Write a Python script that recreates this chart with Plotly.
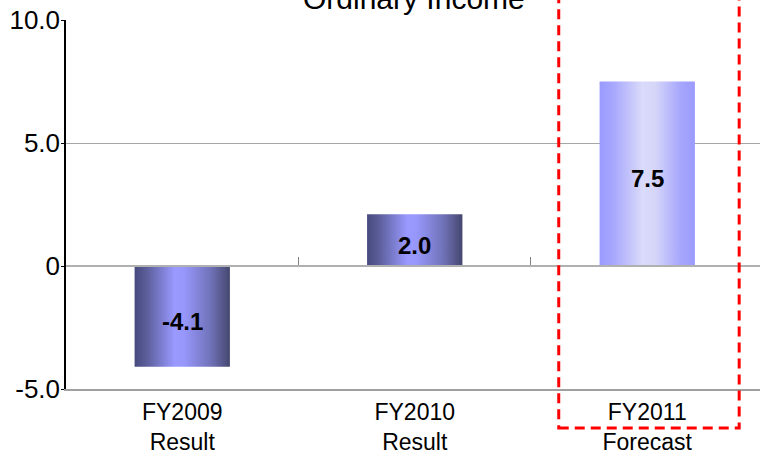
import plotly.graph_objects as go

# ---- data ----
categories = ["FY2009<br>Result", "FY2010<br>Result", "FY2011<br>Forecast"]
values = [-4.1, 2.1, 7.5]
value_labels = ["-4.1", "2.0", "7.5"]
y_tick_vals = [-5, 0, 5, 10]
y_tick_text = ["-5.0", "0", "5.0", "10.0"]
title_text = "Ordinary Income"

positions = list(range(len(categories)))
bar_width = 0.41

dark_scale = [[0, "#474a7d"], [0.12, "#5a5d98"], [0.42, "#9999ff"], [0.52, "#9797fb"],
              [0.8, "#7072b8"], [1, "#45476f"]]
light_scale = [[0, "#9a9aff"], [0.15, "#a8a8fd"], [0.45, "#dadafa"], [0.58, "#d6d6f9"],
               [0.85, "#a6a6fc"], [1, "#9b9bff"]]
scales = [dark_scale, dark_scale, light_scale]

fig = go.Figure()

# bars drawn as gradient-filled rectangles on the data axes
for i, v in enumerate(values):
    x0, x1 = positions[i] - bar_width / 2, positions[i] + bar_width / 2
    fig.add_trace(go.Scatter(
        x=[x0, x1, x1, x0, x0], y=[0, 0, v, v, 0],
        fill="toself", mode="lines", line=dict(width=0),
        fillgradient=dict(type="horizontal", colorscale=scales[i]),
        hoverinfo="skip", showlegend=False,
    ))

# invisible trace to carry the zero-line axis
fig.add_trace(go.Scatter(x=positions, y=values, mode="markers", marker=dict(opacity=0),
                         xaxis="x2", hoverinfo="skip", showlegend=False))

# value labels centred in each bar
label_annotations = [
    dict(x=positions[i], y=values[i] / 2, xref="x", yref="y", text="<b>%s</b>" % value_labels[i],
         showarrow=False, xanchor="center", yanchor="middle", yshift=-5,
         font=dict(family="Liberation Sans, Arial", size=24, color="black"))
    for i in range(len(values))
]

fig.update_layout(
    width=760, height=458,
    margin=dict(l=66, r=0, t=20, b=69, pad=0, autoexpand=False),
    paper_bgcolor="white", plot_bgcolor="white",
    font=dict(family="Liberation Sans, Arial", color="black", size=24),
    showlegend=False,
    xaxis=dict(
        range=[-0.5, 2.485], tickmode="array", tickvals=positions, ticktext=categories,
        showgrid=False, zeroline=False, showline=True, linecolor="#a0a0a0", linewidth=1.5,
        ticks="", ticklabelstandoff=2, tickfont=dict(size=23),
    ),
    xaxis2=dict(
        overlaying="x", anchor="free", position=1 / 3, side="bottom",
        range=[-0.5, 2.485], tickmode="array", tickvals=[0.5, 1.5],
        showticklabels=False, ticks="inside", ticklen=8, tickcolor="#808080",
        showgrid=False, zeroline=False, showline=True, linecolor="#b0b0b0", linewidth=1.5,
    ),
    yaxis=dict(
        range=[-5, 10], tickmode="array", tickvals=y_tick_vals, ticktext=y_tick_text,
        showgrid=True, gridcolor="#a6a6a6", gridwidth=1, zeroline=False,
        showline=True, linecolor="black", linewidth=1.5,
        ticks="outside", ticklen=3, tickcolor="black", tickfont=dict(size=26),
        ticklabelstandoff=-4,
    ),
    annotations=label_annotations + [dict(
        text=title_text, xref="paper", yref="paper", x=0.501, y=1.008,
        xanchor="center", yanchor="bottom", showarrow=False,
        font=dict(size=30, color="black"),
    )],
    shapes=[dict(
        type="rect", xref="paper", yref="paper", x0=0.710, x1=0.970, y0=-0.106, y1=1.1,
        line=dict(color="#ff0000", width=3, dash="10px,6px"), fillcolor="rgba(0,0,0,0)",
        layer="above",
    )],
)

fig.write_html("out.html")
